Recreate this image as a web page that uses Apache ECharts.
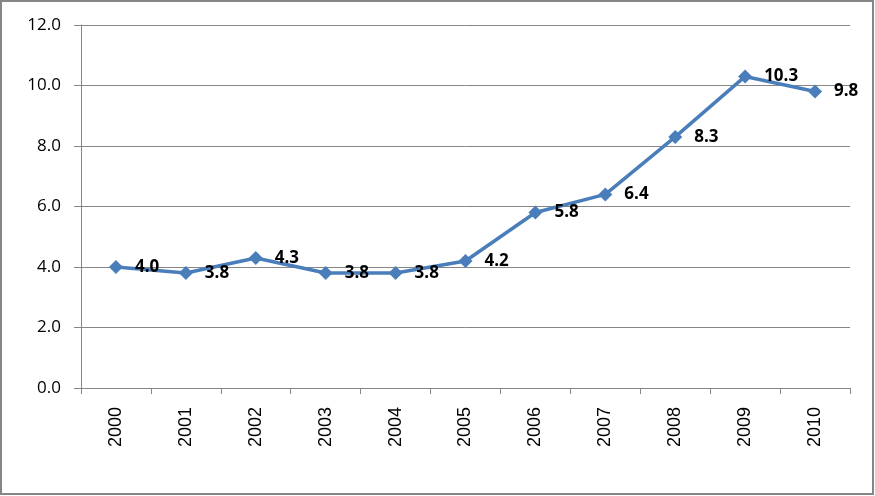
<!DOCTYPE html>
<html>
<head>
<meta charset="utf-8">
<script src="https://cdn.jsdelivr.net/npm/echarts@6/dist/echarts.min.js"></script>
<style>
html,body{margin:0;padding:0;background:#fff;}
#chart{width:875px;height:496px;}
</style>
</head>
<body>
<div id="chart"></div>
<script>
const categories = ['2000','2001','2002','2003','2004','2005','2006','2007','2008','2009','2010'];
const values = [4.0, 3.8, 4.3, 3.8, 3.8, 4.2, 5.8, 6.4, 8.3, 10.3, 9.8];
const yMin = 0, yMax = 12, yInterval = 2;

const chart = echarts.init(document.getElementById('chart'), null, {renderer: 'canvas'});
const axisColor = '#868686';
chart.setOption({
  animation: false,
  backgroundColor: '#fff',
  graphic: [{
    type: 'rect',
    shape: {x: 1, y: 1, width: 872, height: 493},
    style: {fill: 'none', stroke: axisColor, lineWidth: 2},
    silent: true
  }],
  grid: {left: 81, right: 25, top: 25, bottom: 108, containLabel: false},
  xAxis: {
    type: 'category',
    data: categories,
    boundaryGap: true,
    axisLine: {show: true, lineStyle: {color: axisColor, width: 1}},
    axisTick: {show: true, length: 6, lineStyle: {color: axisColor}},
    axisLabel: {
      rotate: 90, margin: 19, color: '#000',
      fontFamily: 'Liberation Sans, Arial, sans-serif', fontSize: 18
    },
    splitLine: {show: false}
  },
  yAxis: {
    type: 'value',
    min: yMin, max: yMax, interval: yInterval,
    axisLine: {show: true, lineStyle: {color: axisColor, width: 1}},
    axisTick: {show: true, length: 7, lineStyle: {color: axisColor}},
    axisLabel: {
      margin: 20, color: '#000',
      fontFamily: 'Open Sans, sans-serif', fontSize: 17,
      formatter: v => v.toFixed(1)
    },
    splitLine: {show: true, lineStyle: {color: axisColor, width: 1}}
  },
  series: [{
    type: 'line',
    data: values,
    symbol: 'diamond',
    symbolSize: 14,
    lineStyle: {color: '#4A7EBB', width: 3.5},
    itemStyle: {color: '#4A7EBB'},
    label: {
      show: true, position: 'right', distance: 12,
      color: '#000', fontWeight: 'bold',
      fontFamily: 'Open Sans, sans-serif', fontSize: 17,
      formatter: p => p.value.toFixed(1)
    }
  }]
});
</script>
</body>
</html>
